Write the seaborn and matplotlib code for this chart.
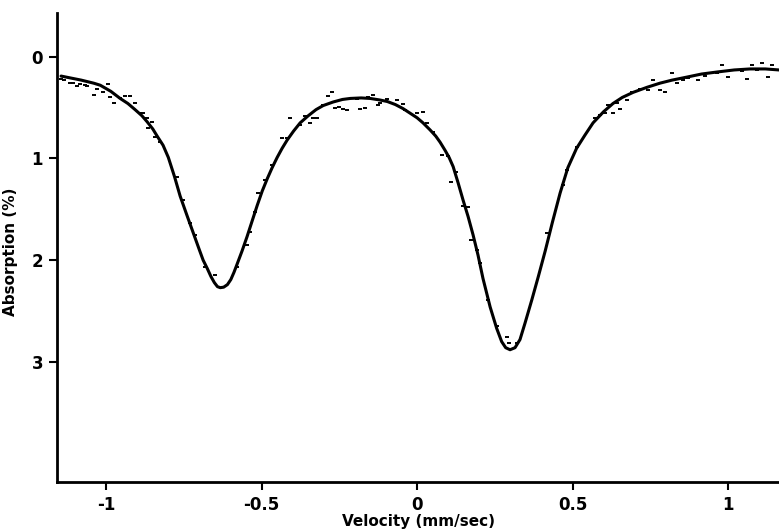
import matplotlib
matplotlib.use("Agg")
import matplotlib.pyplot as plt
import seaborn as sns
import pandas as pd

sns.set_theme(style="ticks")
plt.rcParams["font.family"] = ["DejaVu Sans"]

# fitted curve (velocity mm/sec, absorption %)
fit_velocity = [-1.145, -1.129, -1.080, -1.040, -1.019, -0.985, -0.955, -0.930, -0.907, -0.885,
                -0.868, -0.850, -0.836, -0.817, -0.800, -0.780, -0.762, -0.740, -0.720, -0.700,
                -0.688, -0.675, -0.663, -0.652, -0.642, -0.633, -0.622, -0.610, -0.599, -0.589,
                -0.579, -0.563, -0.547, -0.530, -0.514, -0.498, -0.482, -0.466, -0.450, -0.434,
                -0.418, -0.397, -0.376, -0.350, -0.325, -0.302, -0.270, -0.240, -0.215, -0.180,
                -0.151, -0.120, -0.096, -0.070, -0.045, -0.020, 0.000, 0.019, 0.042, 0.060,
                0.074, 0.090, 0.103, 0.116, 0.132, 0.148, 0.164, 0.180, 0.196, 0.212,
                0.235, 0.256, 0.272, 0.285, 0.299, 0.315, 0.331, 0.347, 0.369, 0.390,
                0.412, 0.435, 0.460, 0.485, 0.513, 0.540, 0.566, 0.600, 0.630, 0.660,
                0.695, 0.740, 0.781, 0.820, 0.868, 0.915, 0.965, 1.020, 1.071, 1.120, 1.164]
fit_absorption = [0.19, 0.20, 0.23, 0.26, 0.28, 0.34, 0.41, 0.46, 0.52, 0.58,
                  0.64, 0.71, 0.78, 0.87, 0.99, 1.18, 1.37, 1.56, 1.73, 1.90,
                  2.00, 2.08, 2.16, 2.22, 2.26, 2.27, 2.265, 2.24, 2.19, 2.12,
                  2.04, 1.91, 1.77, 1.61, 1.46, 1.32, 1.20, 1.09, 0.99, 0.90,
                  0.82, 0.73, 0.65, 0.58, 0.52, 0.48, 0.445, 0.42, 0.41, 0.405,
                  0.41, 0.425, 0.44, 0.47, 0.51, 0.56, 0.60, 0.65, 0.72, 0.78,
                  0.84, 0.92, 0.99, 1.08, 1.24, 1.41, 1.57, 1.75, 1.95, 2.18,
                  2.46, 2.67, 2.80, 2.86, 2.88, 2.86, 2.78, 2.62, 2.39, 2.16,
                  1.91, 1.63, 1.34, 1.09, 0.90, 0.77, 0.65, 0.54, 0.46, 0.40,
                  0.35, 0.30, 0.26, 0.23, 0.20, 0.17, 0.15, 0.13, 0.12, 0.12, 0.13]

# measured points
obs_velocity = [-1.145, -1.135, -1.116, -1.106, -1.093, -1.084, -1.068, -1.061, -1.039, -1.029,
                -1.010, -0.994, -0.987, -0.974, -0.955, -0.939, -0.923, -0.907, -0.891, -0.881,
                -0.868, -0.852, -0.865, -0.842, -0.826, -0.772, -0.752, -0.730, -0.714, -0.682,
                -0.650, -0.579, -0.547, -0.537, -0.521, -0.511, -0.489, -0.466, -0.434, -0.418,
                -0.408, -0.376, -0.360, -0.344, -0.334, -0.322, -0.302, -0.286, -0.273, -0.264,
                -0.251, -0.238, -0.225, -0.193, -0.183, -0.167, -0.158, -0.141, -0.125, -0.119,
                -0.096, -0.064, -0.045, -0.039, 0.000, 0.019, 0.032, 0.051, 0.080, 0.100,
                0.109, 0.125, 0.148, 0.164, 0.174, 0.193, 0.203, 0.228, 0.257, 0.289,
                0.296, 0.322, 0.418, 0.469, 0.482, 0.514, 0.572, 0.588, 0.605, 0.614,
                0.630, 0.643, 0.653, 0.675, 0.691, 0.717, 0.743, 0.759, 0.781, 0.797,
                0.820, 0.836, 0.855, 0.871, 0.887, 0.904, 0.926, 0.965, 0.981, 1.000,
                1.029, 1.045, 1.061, 1.077, 1.093, 1.109, 1.129, 1.141, 1.158]
obs_absorption = [0.22, 0.23, 0.26, 0.26, 0.29, 0.27, 0.28, 0.29, 0.38, 0.32,
                  0.35, 0.27, 0.40, 0.45, 0.41, 0.39, 0.39, 0.45, 0.55, 0.55,
                  0.60, 0.64, 0.70, 0.79, 0.84, 1.18, 1.41, 1.63, 1.75, 2.07,
                  2.15, 2.07, 1.85, 1.72, 1.53, 1.34, 1.21, 1.06, 0.80, 0.80,
                  0.60, 0.67, 0.58, 0.65, 0.60, 0.60, 0.47, 0.39, 0.35, 0.50,
                  0.49, 0.51, 0.52, 0.42, 0.51, 0.50, 0.40, 0.38, 0.47, 0.45,
                  0.42, 0.43, 0.46, 0.52, 0.55, 0.54, 0.65, 0.74, 0.97, 0.98,
                  1.23, 1.13, 1.47, 1.48, 1.80, 1.90, 2.03, 2.39, 2.65, 2.75,
                  2.81, 2.81, 1.73, 1.26, 1.11, 0.89, 0.60, 0.57, 0.55, 0.47,
                  0.55, 0.45, 0.51, 0.43, 0.35, 0.32, 0.33, 0.23, 0.33, 0.35,
                  0.16, 0.26, 0.23, 0.21, 0.19, 0.23, 0.19, 0.16, 0.08, 0.20,
                  0.13, 0.14, 0.22, 0.08, 0.13, 0.06, 0.20, 0.08, 0.13]

x_ticks = [-1, -0.5, 0, 0.5, 1]
x_tick_labels = ["-1", "-0.5", "0", "0.5", "1"]
y_ticks = [0, 1, 2, 3]
y_tick_labels = ["0", "1", "2", "3"]

fit_df = pd.DataFrame({"velocity": fit_velocity, "absorption": fit_absorption})
obs_df = pd.DataFrame({"velocity": obs_velocity, "absorption": obs_absorption})

fig = plt.figure(figsize=(7.79, 5.32), dpi=100)
ax = fig.add_axes([0.0732, 0.094, 0.9268, 0.8816])

sns.lineplot(data=fit_df, x="velocity", y="absorption", sort=False,
             color="black", linewidth=2.2, ax=ax)
sns.scatterplot(data=obs_df, x="velocity", y="absorption", marker="_",
                s=10, linewidth=1.4, color="black", ax=ax)

ax.set_xlim(-1.158, 1.164)
ax.set_ylim(4.18, -0.43)
ax.set_xticks(x_ticks)
ax.set_xticklabels(x_tick_labels)
ax.set_yticks(y_ticks)
ax.set_yticklabels(y_tick_labels)
ax.tick_params(axis="both", direction="out", length=6, width=1.5, pad=4,
               labelsize=12, colors="black")
for lbl in ax.get_xticklabels() + ax.get_yticklabels():
    lbl.set_fontweight("bold")

sns.despine(ax=ax)
for side in ["left", "bottom"]:
    ax.spines[side].set_linewidth(2)
    ax.spines[side].set_color("black")

ax.set_xlabel("Velocity (mm/sec)", fontsize=11, fontweight="bold",
              color="black", labelpad=0)
ax.set_ylabel("Absorption (%)", fontsize=11, fontweight="bold",
              color="black", labelpad=6)
ax.yaxis.set_label_coords(-0.054, 0.49)

fig.savefig("out.png", dpi=100)
